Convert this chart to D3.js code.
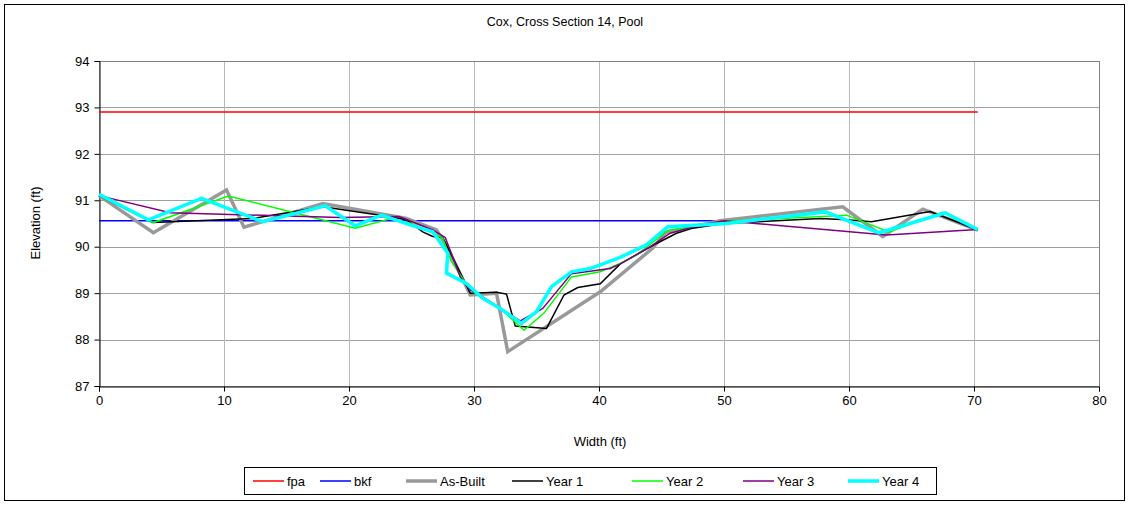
<!DOCTYPE html>
<html><head><meta charset="utf-8">
<script src="https://cdn.jsdelivr.net/npm/d3@7"></script>
<style>body{margin:0;background:#fff}svg{display:block;font-family:"Liberation Sans",Arial,sans-serif}</style>
</head><body><svg id="c" width="1130" height="506"></svg>
<script>
const title = "Cox, Cross Section 14, Pool";
const xTicks = [0,10,20,30,40,50,60,70,80];
const yTicks = [87,88,89,90,91,92,93,94];
const fpaX = [0, 70.3], fpaY = [92.9, 92.9];
const bkfX = [0, 49.5], bkfY = [90.56, 90.56];
const asBuiltX = [0,4.35,10.2,11.6,17.9,24.6,27.0,27.9,29.7,31.8,32.7,40.1,44.3,45.3,49.7,59.5,62.7,65.9,70.3];
const asBuiltY = [91.1,90.30,91.22,90.42,90.93,90.61,90.36,89.97,88.96,89.0,87.74,89.03,89.97,90.3,90.56,90.86,90.22,90.81,90.36];
const y1X = [0,4.3,12.3,17.9,22.5,24.6,25.9,26.7,27.5,29.7,31.8,32.6,33.3,35.8,37.2,38.3,40.1,41.7,44.6,46.2,47.5,50.0,57.7,59.8,61.8,66.5,70.3];
const y1Y = [91.1,90.52,90.61,90.86,90.68,90.58,90.32,90.22,90.2,89.0,89.02,88.98,88.29,88.24,88.96,89.12,89.2,89.63,90.07,90.29,90.4,90.5,90.61,90.58,90.54,90.76,90.36];
const y2X = [0,4.35,10.35,20.5,23.3,25.0,26.7,27.5,28.2,29.7,31.0,32.3,34.0,35.6,37.8,40.1,41.7,43.0,45.5,48.1,50.2,59.8,63.2,67.5,70.3];
const y2Y = [91.1,90.52,91.09,90.4,90.6,90.5,90.3,90.18,89.68,89.07,88.85,88.62,88.2,88.57,89.35,89.46,89.64,89.82,90.35,90.47,90.55,90.68,90.32,90.74,90.36];
const y3X = [0,5.7,19.3,24.0,26.7,27.7,28.9,29.7,30.7,31.5,33.7,35.5,37.8,40.9,41.7,44.1,45.7,48.1,50.0,63.0,70.3];
const y3Y = [91.1,90.73,90.63,90.65,90.36,90.2,89.35,89.07,88.92,88.78,88.4,88.67,89.42,89.53,89.63,90.0,90.29,90.47,90.56,90.25,90.37];
const y4X = [0,3.95,8.2,13.1,18.1,20.5,22.6,24.9,26.7,27.9,27.8,29.4,30.7,32.1,33.8,35.0,36.2,37.8,39.3,41.7,43.8,45.5,50.2,58.1,62.4,67.7,70.3];
const y4Y = [91.13,90.58,91.04,90.54,90.88,90.45,90.68,90.47,90.32,89.86,89.43,89.21,88.89,88.67,88.35,88.6,89.14,89.46,89.53,89.77,90.04,90.43,90.5,90.75,90.3,90.73,90.37];

const series = [
  {name:"fpa", xs:fpaX, ys:fpaY, color:"#ff0000", w:1.5},
  {name:"bkf", xs:bkfX, ys:bkfY, color:"#0000ff", w:1.5},
  {name:"As-Built", xs:asBuiltX, ys:asBuiltY, color:"#999999", w:3.5},
  {name:"Year 1", xs:y1X, ys:y1Y, color:"#000000", w:1.5},
  {name:"Year 2", xs:y2X, ys:y2Y, color:"#00ff00", w:1.5},
  {name:"Year 3", xs:y3X, ys:y3Y, color:"#800080", w:1.5},
  {name:"Year 4", xs:y4X, ys:y4Y, color:"#00ffff", w:3.5}
];

const svg = d3.select("#c");
const L=99, R=1099, T=61, B=386;
const x = d3.scaleLinear().domain([0,80]).range([L,R]);
const y = d3.scaleLinear().domain([87,94]).range([B,T]);

svg.append("rect").attr("x",4.5).attr("y",4.5).attr("width",1120).attr("height",496)
  .attr("fill","#fff").attr("stroke","#000").attr("stroke-width",1);

svg.append("text").attr("x",565).attr("y",26).attr("text-anchor","middle")
  .attr("font-size",12.5).text(title);

// grid
const g = svg.append("g");
g.selectAll(".hg").data(yTicks).join("line")
  .attr("x1",L).attr("x2",R).attr("y1",d=>Math.round(y(d))+0.5).attr("y2",d=>Math.round(y(d))+0.5)
  .attr("stroke","#a0a0a0").attr("stroke-width",1);
g.selectAll(".vg").data(xTicks).join("line")
  .attr("y1",T).attr("y2",B).attr("x1",d=>Math.round(x(d))+0.5).attr("x2",d=>Math.round(x(d))+0.5)
  .attr("stroke","#b8b8b8").attr("stroke-width",1);
g.append("line").attr("x1",R+0.5).attr("x2",R+0.5).attr("y1",T).attr("y2",B).attr("stroke","#808080");
g.append("line").attr("x1",L).attr("x2",R).attr("y1",T+0.5).attr("y2",T+0.5).attr("stroke","#808080");

// axes
const xa = svg.append("g").attr("transform",`translate(0,${B+0.5})`)
  .call(d3.axisBottom(x).tickValues(xTicks).tickSize(5).tickPadding(4).tickFormat(d3.format("d")));
const ya = svg.append("g").attr("transform",`translate(${L+0.5},0)`)
  .call(d3.axisLeft(y).tickValues(yTicks).tickSize(5).tickPadding(5).tickFormat(d3.format("d")));
[xa,ya].forEach(a=>{
  a.selectAll("text").attr("font-size",13).attr("fill","#000").attr("font-family","Liberation Sans, Arial, sans-serif");
  a.selectAll("line").attr("stroke","#000");
  a.select(".domain").attr("stroke","#000");
});

svg.append("text").attr("x",600).attr("y",446).attr("text-anchor","middle").attr("font-size",13).text("Width (ft)");
svg.append("text").attr("transform","translate(40,223) rotate(-90)").attr("text-anchor","middle").attr("font-size",13).text("Elevation (ft)");

// lines
const lineGen = d3.line().x(d=>x(d[0])).y(d=>y(d[1]));
const pg = svg.append("g");
series.forEach(s=>{
  const pts = s.xs.map((v,i)=>[v,s.ys[i]]);
  pg.append("path").datum(pts).attr("d",lineGen).attr("fill","none")
    .attr("stroke",s.color).attr("stroke-width",s.w).attr("stroke-linejoin","miter");
});

// legend
const legX = [253,320,406,512,632,743,848];
const lg = svg.append("g");
lg.append("rect").attr("x",244.5).attr("y",467.5).attr("width",692).attr("height",27)
  .attr("fill","#fff").attr("stroke","#000");
series.forEach((s,i)=>{
  lg.append("line").attr("x1",legX[i]).attr("x2",legX[i]+31).attr("y1",481).attr("y2",481)
    .attr("stroke",s.color).attr("stroke-width",s.w);
  lg.append("text").attr("x",legX[i]+34).attr("y",486).attr("font-size",13).text(s.name);
});
</script></body></html>
